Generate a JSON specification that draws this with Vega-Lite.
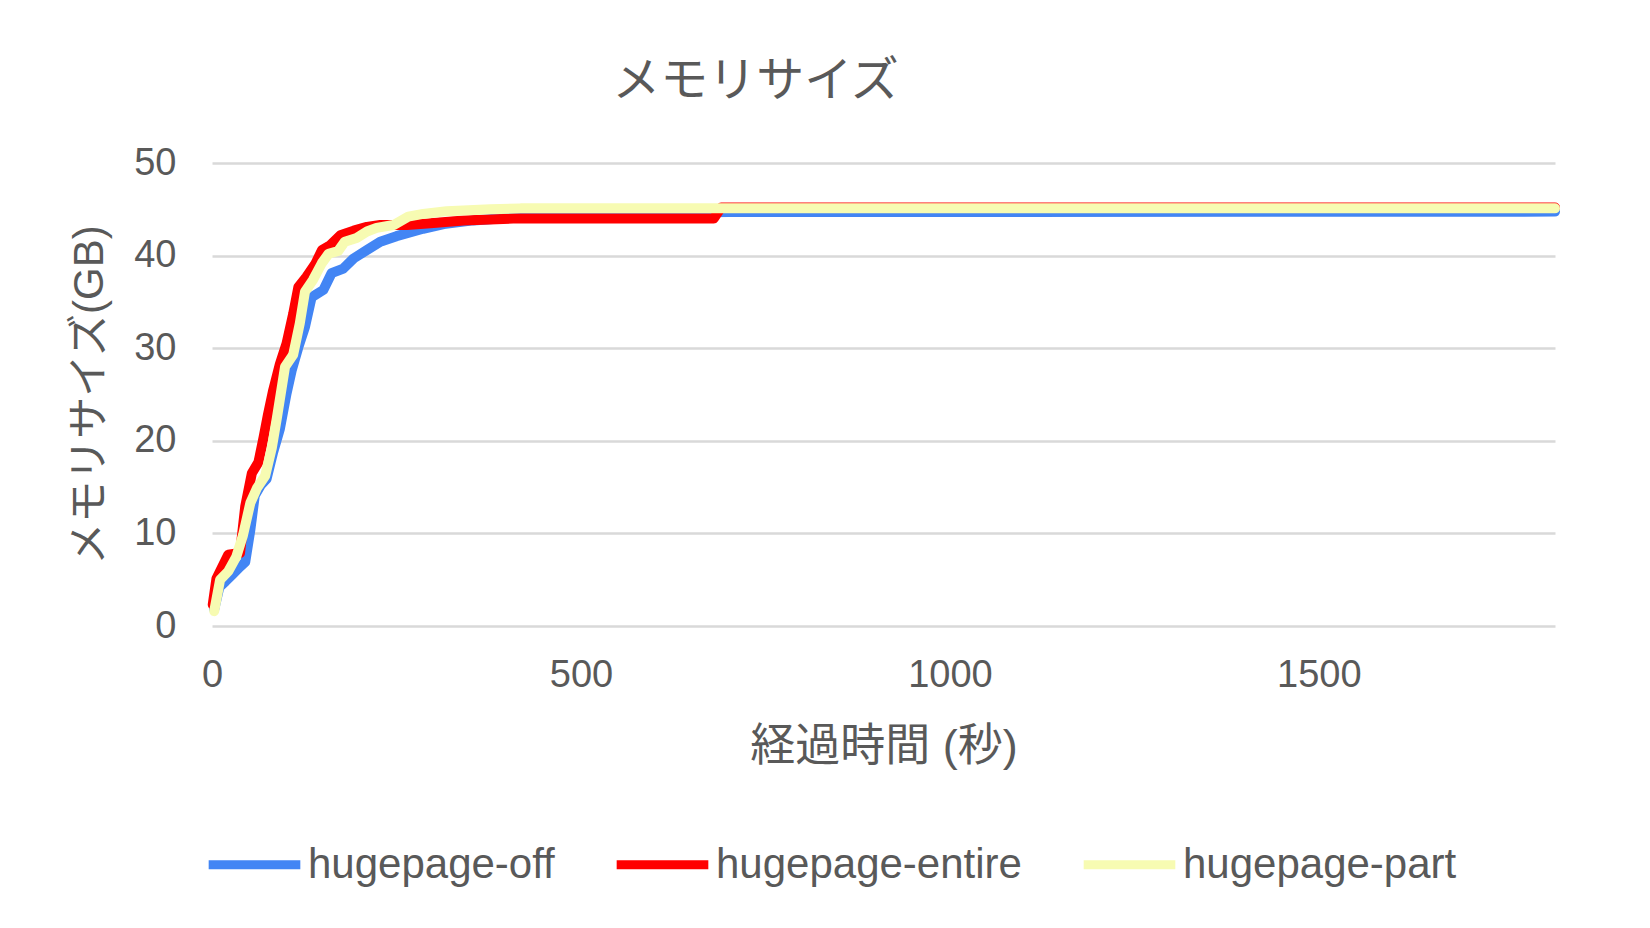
{
  "$schema": "https://vega.github.io/schema/vega-lite/v6.json",
  "width": 1343,
  "height": 463,
  "autosize": {"type": "none"},
  "padding": {"left": 212, "top": 163, "right": 95, "bottom": 302},
  "background": "white",
  "title": {
    "text": "メモリサイズ",
    "font": "Noto Sans CJK JP",
    "fontSize": 48,
    "fontWeight": "normal",
    "color": "#595959",
    "anchor": "middle",
    "dx": -128,
    "offset": 38
  },
  "data": {
    "values": [
      {"t": 3, "gb": 1.8, "series": "hugepage-off"},
      {"t": 10, "gb": 4.2, "series": "hugepage-off"},
      {"t": 18, "gb": 4.8, "series": "hugepage-off"},
      {"t": 28, "gb": 5.6, "series": "hugepage-off"},
      {"t": 38, "gb": 6.4, "series": "hugepage-off"},
      {"t": 45, "gb": 6.9, "series": "hugepage-off"},
      {"t": 52, "gb": 10.4, "series": "hugepage-off"},
      {"t": 58, "gb": 14.1, "series": "hugepage-off"},
      {"t": 66, "gb": 15.2, "series": "hugepage-off"},
      {"t": 74, "gb": 15.9, "series": "hugepage-off"},
      {"t": 83, "gb": 18.8, "series": "hugepage-off"},
      {"t": 92, "gb": 21.3, "series": "hugepage-off"},
      {"t": 101, "gb": 25.1, "series": "hugepage-off"},
      {"t": 108, "gb": 27.6, "series": "hugepage-off"},
      {"t": 117, "gb": 30.1, "series": "hugepage-off"},
      {"t": 126, "gb": 32.3, "series": "hugepage-off"},
      {"t": 135, "gb": 35.5, "series": "hugepage-off"},
      {"t": 151, "gb": 36.3, "series": "hugepage-off"},
      {"t": 162, "gb": 38.1, "series": "hugepage-off"},
      {"t": 178, "gb": 38.6, "series": "hugepage-off"},
      {"t": 192, "gb": 39.7, "series": "hugepage-off"},
      {"t": 210, "gb": 40.6, "series": "hugepage-off"},
      {"t": 228, "gb": 41.5, "series": "hugepage-off"},
      {"t": 250, "gb": 42.1, "series": "hugepage-off"},
      {"t": 286, "gb": 42.9, "series": "hugepage-off"},
      {"t": 314, "gb": 43.4, "series": "hugepage-off"},
      {"t": 354, "gb": 43.8, "series": "hugepage-off"},
      {"t": 420, "gb": 44.2, "series": "hugepage-off"},
      {"t": 520, "gb": 44.5, "series": "hugepage-off"},
      {"t": 700, "gb": 44.7, "series": "hugepage-off"},
      {"t": 1820, "gb": 44.75, "series": "hugepage-off"},

      {"t": 1, "gb": 2.3, "series": "hugepage-entire"},
      {"t": 6, "gb": 5.1, "series": "hugepage-entire"},
      {"t": 22, "gb": 7.7, "series": "hugepage-entire"},
      {"t": 38, "gb": 7.9, "series": "hugepage-entire"},
      {"t": 45, "gb": 12.9, "series": "hugepage-entire"},
      {"t": 54, "gb": 16.5, "series": "hugepage-entire"},
      {"t": 63, "gb": 17.7, "series": "hugepage-entire"},
      {"t": 70, "gb": 20.4, "series": "hugepage-entire"},
      {"t": 76, "gb": 22.9, "series": "hugepage-entire"},
      {"t": 83, "gb": 25.5, "series": "hugepage-entire"},
      {"t": 92, "gb": 28.3, "series": "hugepage-entire"},
      {"t": 101, "gb": 30.5, "series": "hugepage-entire"},
      {"t": 110, "gb": 33.7, "series": "hugepage-entire"},
      {"t": 117, "gb": 36.6, "series": "hugepage-entire"},
      {"t": 128, "gb": 37.7, "series": "hugepage-entire"},
      {"t": 140, "gb": 39.1, "series": "hugepage-entire"},
      {"t": 149, "gb": 40.6, "series": "hugepage-entire"},
      {"t": 160, "gb": 41.1, "series": "hugepage-entire"},
      {"t": 174, "gb": 42.2, "series": "hugepage-entire"},
      {"t": 192, "gb": 42.7, "series": "hugepage-entire"},
      {"t": 210, "gb": 43.1, "series": "hugepage-entire"},
      {"t": 228, "gb": 43.3, "series": "hugepage-entire"},
      {"t": 264, "gb": 43.3, "series": "hugepage-entire"},
      {"t": 296, "gb": 43.5, "series": "hugepage-entire"},
      {"t": 341, "gb": 43.8, "series": "hugepage-entire"},
      {"t": 408, "gb": 44.0, "series": "hugepage-entire"},
      {"t": 680, "gb": 44.0, "series": "hugepage-entire"},
      {"t": 690, "gb": 45.2, "series": "hugepage-entire"},
      {"t": 1820, "gb": 45.2, "series": "hugepage-entire"},

      {"t": 3, "gb": 1.6, "series": "hugepage-part"},
      {"t": 11, "gb": 5.0, "series": "hugepage-part"},
      {"t": 22, "gb": 5.9, "series": "hugepage-part"},
      {"t": 33, "gb": 7.5, "series": "hugepage-part"},
      {"t": 42, "gb": 9.8, "series": "hugepage-part"},
      {"t": 52, "gb": 13.3, "series": "hugepage-part"},
      {"t": 61, "gb": 14.9, "series": "hugepage-part"},
      {"t": 72, "gb": 16.2, "series": "hugepage-part"},
      {"t": 81, "gb": 19.2, "series": "hugepage-part"},
      {"t": 88, "gb": 22.5, "series": "hugepage-part"},
      {"t": 99, "gb": 28.0, "series": "hugepage-part"},
      {"t": 110, "gb": 29.3, "series": "hugepage-part"},
      {"t": 119, "gb": 32.7, "series": "hugepage-part"},
      {"t": 126, "gb": 36.1, "series": "hugepage-part"},
      {"t": 137, "gb": 37.4, "series": "hugepage-part"},
      {"t": 149, "gb": 39.2, "series": "hugepage-part"},
      {"t": 158, "gb": 40.2, "series": "hugepage-part"},
      {"t": 171, "gb": 40.5, "series": "hugepage-part"},
      {"t": 180, "gb": 41.5, "series": "hugepage-part"},
      {"t": 196, "gb": 41.9, "series": "hugepage-part"},
      {"t": 210, "gb": 42.6, "series": "hugepage-part"},
      {"t": 223, "gb": 43.0, "series": "hugepage-part"},
      {"t": 246, "gb": 43.3, "series": "hugepage-part"},
      {"t": 266, "gb": 44.2, "series": "hugepage-part"},
      {"t": 286, "gb": 44.5, "series": "hugepage-part"},
      {"t": 318, "gb": 44.8, "series": "hugepage-part"},
      {"t": 377, "gb": 45.0, "series": "hugepage-part"},
      {"t": 418, "gb": 45.1, "series": "hugepage-part"},
      {"t": 1820, "gb": 45.1, "series": "hugepage-part"}
    ]
  },
  "encoding": {
    "x": {
      "field": "t",
      "type": "quantitative",
      "scale": {"domain": [0, 1820], "nice": false, "zero": true},
      "axis": {
        "title": "経過時間 (秒)",
        "values": [0, 500, 1000, 1500],
        "format": "d",
        "labelFlush": false,
        "grid": false,
        "domain": false,
        "ticks": false,
        "labelPadding": 30,
        "titlePadding": 30,
        "titleFontSize": 45
      }
    },
    "y": {
      "field": "gb",
      "type": "quantitative",
      "scale": {"domain": [0, 50], "nice": false},
      "axis": {
        "title": "メモリサイズ(GB)",
        "values": [0, 10, 20, 30, 40, 50],
        "format": "d",
        "grid": true,
        "domain": false,
        "ticks": false,
        "labelPadding": 36,
        "titlePadding": 22
      }
    },
    "color": {
      "field": "series",
      "type": "nominal",
      "sort": null,
      "scale": {
        "domain": ["hugepage-off", "hugepage-entire", "hugepage-part"],
        "range": ["#4285F4", "#FF0000", "#F7FBB2"]
      },
      "legend": {
        "title": null,
        "orient": "none",
        "direction": "horizontal",
        "legendX": -8,
        "legendY": 651,
        "symbolType": "stroke",
        "symbolSize": 8400,
        "symbolStrokeWidth": 9,
        "labelOffset": 3,
        "columnPadding": 43,
        "labelFont": "Liberation Sans",
        "labelFontSize": 42,
        "labelColor": "#595959",
        "labelLimit": 400
      }
    }
  },
  "layer": [
    {
      "transform": [{"filter": "datum.series === 'hugepage-off'"}],
      "mark": {"type": "line", "strokeWidth": 10, "strokeCap": "round", "strokeJoin": "round", "clip": false}
    },
    {
      "transform": [{"filter": "datum.series === 'hugepage-entire'"}],
      "mark": {"type": "line", "strokeWidth": 10, "strokeCap": "round", "strokeJoin": "round", "clip": false}
    },
    {
      "transform": [{"filter": "datum.series === 'hugepage-part'"}],
      "mark": {"type": "line", "strokeWidth": 10, "strokeCap": "round", "strokeJoin": "round", "clip": false}
    }
  ],
  "config": {
    "view": {"stroke": null},
    "axis": {
      "labelFont": "Liberation Sans",
      "labelFontSize": 38,
      "labelColor": "#595959",
      "titleFont": "Liberation Sans, Noto Sans CJK JP",
      "titleFontSize": 42,
      "titleFontWeight": "normal",
      "titleColor": "#595959",
      "gridColor": "#D9D9D9",
      "gridWidth": 2.5
    }
  }
}
